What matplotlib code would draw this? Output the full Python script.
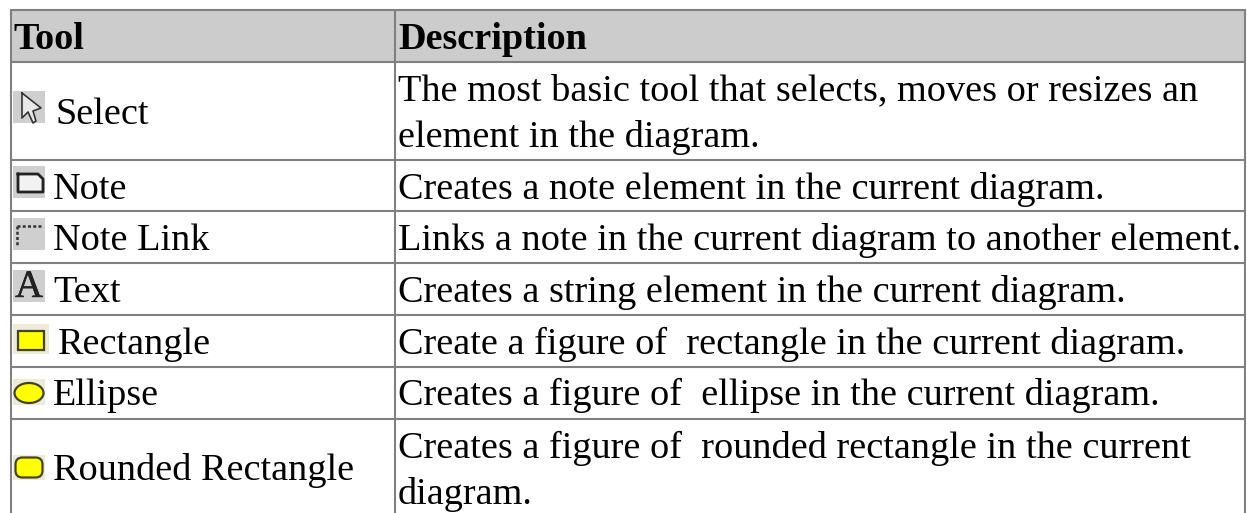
import matplotlib
matplotlib.use("Agg")
import matplotlib.pyplot as plt
import matplotlib.patheffects as pe
from matplotlib.patches import Rectangle, Ellipse, FancyBboxPatch

W, H = 1247, 513
plt.rcParams['font.family'] = ['Liberation Serif', 'DejaVu Serif']

HEADERS = ["Tool", "Description"]
TOOLS = ["Select", "Note", "Note Link", "Text", "Rectangle", "Ellipse", "Rounded Rectangle"]
DESCRIPTIONS = [
    ["The most basic tool that selects, moves or resizes an", "element in the diagram."],
    ["Creates a note element in the current diagram."],
    ["Links a note in the current diagram to another element."],
    ["Creates a string element in the current diagram."],
    ["Create a figure of  rectangle in the current diagram."],
    ["Creates a figure of  ellipse in the current diagram."],
    ["Creates a figure of  rounded rectangle in the current", "diagram."],
]

# layout, all in image pixels
ROW_LINES = [10, 61.5, 159.5, 211, 263, 315, 367, 419]
COL_LINES = [11, 395, 1245]
TOOL_BASE = [124, 199, 250, 302, 354, 405, 480]
TOOL_X = [55, 53, 53, 53, 58, 53, 53]
DESC_BASE = [[100, 147], [199], [250], [302], [354], [405], [458, 504]]
LINE = "#808080"
FS = 27.55

fig = plt.figure(figsize=(W / 100, H / 100), dpi=100)
ax = fig.add_axes([0, 0, 1, 1])
ax.set_xlim(0, W)
ax.set_ylim(H, 0)
ax.axis("off")

ax.add_patch(Rectangle((COL_LINES[0], ROW_LINES[0]), COL_LINES[2] - COL_LINES[0],
                       ROW_LINES[1] - ROW_LINES[0], fc="#cccccc", ec="none", zorder=0))

for y in ROW_LINES:
    ax.plot([COL_LINES[0] - 1, COL_LINES[2] + 1], [y, y], color=LINE, lw=1.5, solid_capstyle="butt", zorder=1)
for x in COL_LINES:
    ax.plot([x, x], [ROW_LINES[0], H], color=LINE, lw=1.5, solid_capstyle="butt", zorder=1)

ax.text(13, 49, HEADERS[0], fontsize=FS, fontweight="bold", va="baseline", color="black")
ax.text(398, 49, HEADERS[1], fontsize=FS, fontweight="bold", va="baseline", color="black")

for name, x, y in zip(TOOLS, TOOL_X, TOOL_BASE):
    ax.text(x, y, name, fontsize=FS, va="baseline", color="black")

for lines, bases in zip(DESCRIPTIONS, DESC_BASE):
    for s, y in zip(lines, bases):
        ax.text(398, y, s, fontsize=FS, va="baseline", color="black")


def icon_bg(y, w=32, h=32, color="#cfcfcf"):
    ax.add_patch(Rectangle((13, y), w, h, fc=color, ec="none", zorder=2))


# select
icon_bg(91)
arrow_x = [22, 22, 28, 33, 36, 33, 41, 22]
arrow_y = [93, 118, 112, 123, 121, 111, 108, 93]
ax.fill(arrow_x, arrow_y, color="#e8e8e8", zorder=2.5)
ax.plot(arrow_x, arrow_y, color="#333333", lw=1.2, zorder=3)

# note
icon_bg(166)
ax.fill([18, 37, 43, 43, 18], [174, 174, 180, 192, 192], color="#f2f2f2", zorder=2.5)
ax.plot([18, 38, 43, 43, 18, 18], [174, 174, 179, 192, 192, 174], color="#222222", lw=2.0, zorder=3)

# note link
icon_bg(218)
ax.plot([17, 43], [226, 226], color="#333333", lw=1.8, ls=(0, (1.2, 0.9)), zorder=3)
ax.plot([17, 17], [226, 247], color="#333333", lw=1.8, ls=(0, (1.2, 0.9)), zorder=3)

# text
icon_bg(270)
ax.text(29, 297, "A", fontsize=28, ha="center", va="baseline", color="#222222", zorder=3,
        path_effects=[pe.withStroke(linewidth=0.3, foreground="#222222")])

# rectangle
icon_bg(324, w=36, h=30, color="#eeead8")
ax.add_patch(Rectangle((17.5, 331), 26, 19, fc="#ffff00", ec="#444422", lw=1.6, zorder=3))

# ellipse
icon_bg(379, w=32, h=26, color="#eeead8")
ax.add_patch(Ellipse((29, 393), 29, 20, fc="#ffff00", ec="#444422", lw=1.6, zorder=3))

# rounded rectangle
icon_bg(455, w=32, h=25, color="#eeead8")
ax.add_patch(FancyBboxPatch((15.5, 457.5), 27, 20, boxstyle="round,pad=0,rounding_size=7",
                            fc="#ffff00", ec="#444422", lw=1.6, zorder=3))

fig.savefig("out.png", dpi=100, facecolor="white")
